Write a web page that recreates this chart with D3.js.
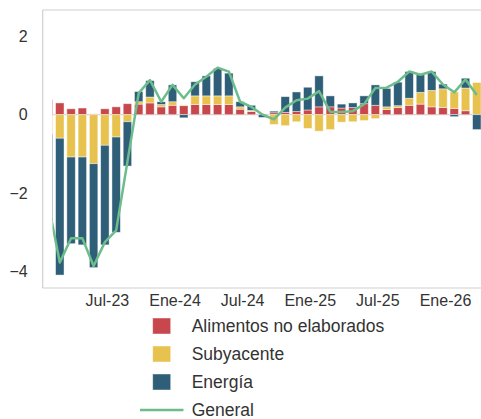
<!DOCTYPE html>
<html>
<head>
<meta charset="utf-8">
<script src="https://cdn.jsdelivr.net/npm/d3@7"></script>
<style>
  html, body { margin: 0; padding: 0; background: #fff; }
  svg { display: block; font-family: "Liberation Sans", Arial, sans-serif; }
</style>
</head>
<body>
<svg id="chart" width="481" height="419"></svg>
<script>
// Monthly contributions (p.p.) from Feb-23 to Apr-26
const months = [
  "2023-02","2023-03","2023-04","2023-05","2023-06","2023-07","2023-08","2023-09","2023-10","2023-11","2023-12",
  "2024-01","2024-02","2024-03","2024-04","2024-05","2024-06","2024-07","2024-08","2024-09","2024-10","2024-11","2024-12",
  "2025-01","2025-02","2025-03","2025-04","2025-05","2025-06","2025-07","2025-08","2025-09","2025-10","2025-11","2025-12",
  "2026-01","2026-02","2026-03","2026-04"
];
const alimentos = [0.39,0.30,0.15,0.17,0.02,0.15,0.20,0.28,0.27,0.30,0.20,
  0.24,0.23,0.26,0.26,0.26,0.26,0.14,0.08,0.02,0.05,0.06,0.08,
  0.12,0.20,0.20,0.17,0.18,0.28,0.24,0.13,0.18,0.24,0.27,0.20,
  0.18,0.16,0.10,0.00];
const subyacente = [-0.50,-0.60,-1.08,-1.08,-1.25,-0.78,-0.57,-0.18,0.06,0.15,0.06,
  0.09,0.02,0.22,0.22,0.22,0.22,0.06,0.03,0.00,-0.25,-0.28,-0.18,
  -0.35,-0.42,-0.38,-0.19,-0.18,-0.15,-0.10,0.07,0.05,0.18,0.30,0.42,
  0.48,0.42,0.58,0.82];
const energia = [-2.20,-3.49,-2.21,-2.24,-2.65,-2.54,-2.43,-1.13,0.26,0.42,0.07,
  0.43,-0.08,0.36,0.51,0.70,0.58,0.13,0.13,-0.07,0.04,0.40,0.50,
  0.58,0.79,0.28,0.10,0.12,0.20,0.52,0.47,0.60,0.68,0.45,0.48,
  0.12,-0.05,0.25,-0.38];
const general = [-2.30,-3.77,-3.15,-3.15,-3.86,-3.25,-2.95,-1.20,0.55,0.88,0.33,
  0.76,0.42,0.77,0.97,1.20,1.10,0.33,0.20,0.00,-0.12,0.18,0.37,
  0.41,0.60,0.07,0.07,0.09,0.27,0.68,0.69,0.84,1.10,1.02,1.10,
  0.77,0.57,0.90,0.50];

const tickMonths = ["2023-07","2024-01","2024-07","2025-01","2025-07","2026-01"];
const tickLabels = ["Jul-23","Ene-24","Jul-24","Ene-25","Jul-25","Ene-26"];
const yTicks = [-4, -2, 0, 2];

const seriesKeys = ["alimentos","subyacente","energia"];
const seriesNames = ["Alimentos no elaborados","Subyacente","Energía"];
const colors = { alimentos: "#c8474d", subyacente: "#e8c24f", energia: "#2f5e78", general: "#6dbd8c" };

const rows = months.map((m, i) => ({
  month: m, alimentos: alimentos[i], subyacente: subyacente[i], energia: energia[i], general: general[i]
}));

const svg = d3.select("#chart");
const plot = { left: 52.5, right: 490, top: 10, bottom: 288 };
const spineX = 42.7;

const x = d3.scaleBand()
  .domain(months)
  .range([42.9, 42.9 + 11.27 * months.length])
  .paddingInner(0.25)
  .paddingOuter(0.125);

const y = d3.scaleLinear().domain([-4.42, 2.67]).range([plot.bottom, plot.top]);

svg.append("defs").append("clipPath").attr("id", "plotClip")
  .append("rect")
  .attr("x", plot.left).attr("y", plot.top)
  .attr("width", plot.right - plot.left).attr("height", plot.bottom - plot.top);

// frame lines
const frame = svg.append("g").attr("stroke", "#cfcfcf").attr("stroke-width", 1.2).attr("fill", "none");
frame.append("line").attr("x1", spineX).attr("x2", spineX).attr("y1", plot.top).attr("y2", plot.bottom);
frame.append("line").attr("x1", spineX).attr("x2", 481).attr("y1", plot.top).attr("y2", plot.top);
frame.append("line").attr("x1", spineX).attr("x2", 481).attr("y1", plot.bottom).attr("y2", plot.bottom);

const g = svg.append("g").attr("clip-path", "url(#plotClip)");

// zero line
g.append("line")
  .attr("x1", plot.left).attr("x2", plot.right)
  .attr("y1", y(0)).attr("y2", y(0))
  .attr("stroke", "#c8c8c8").attr("stroke-width", 1);

const stacked = d3.stack()
  .keys(seriesKeys)
  .offset(d3.stackOffsetDiverging)(rows);

g.selectAll("g.series")
  .data(stacked)
  .join("g")
  .attr("class", "series")
  .attr("fill", d => colors[d.key])
  .selectAll("rect")
  .data(d => d)
  .join("rect")
  .attr("x", d => x(d.data.month))
  .attr("width", x.bandwidth())
  .attr("y", d => y(Math.max(d[0], d[1])))
  .attr("height", d => Math.abs(y(d[0]) - y(d[1])))
  .attr("stroke", "rgba(255,255,255,0.55)")
  .attr("stroke-width", 0.8);

const line = d3.line()
  .x(d => x(d.month) + x.bandwidth() / 2)
  .y(d => y(d.general));

g.append("path")
  .datum(rows)
  .attr("fill", "none")
  .attr("stroke", colors.general)
  .attr("stroke-width", 2.5)
  .attr("stroke-linejoin", "round")
  .attr("d", line);

// y axis labels
const yAxis = svg.append("g")
  .attr("transform", `translate(${spineX},0)`)
  .call(d3.axisLeft(y).tickValues(yTicks).tickSize(0).tickPadding(15));
yAxis.select(".domain").remove();
yAxis.selectAll("text")
  .attr("font-size", 16).attr("fill", "#333")
  .attr("font-family", "'Liberation Sans', Arial, sans-serif");

// x axis labels
const tickLookup = new Map(tickMonths.map((m, i) => [m, tickLabels[i]]));
const xAxis = svg.append("g")
  .attr("transform", `translate(2.5,${plot.bottom})`)
  .call(d3.axisBottom(x).tickValues(tickMonths).tickFormat(m => tickLookup.get(m)).tickSize(0).tickPadding(7));
xAxis.select(".domain").remove();
xAxis.selectAll("text")
  .attr("font-size", 16).attr("fill", "#333")
  .attr("font-family", "'Liberation Sans', Arial, sans-serif");

// legend
const legend = svg.append("g").attr("font-size", 17.5).attr("fill", "#333");
seriesKeys.forEach((k, i) => {
  const cy = 326 + i * 28;
  legend.append("rect")
    .attr("x", 152.7).attr("y", cy - 8).attr("width", 18).attr("height", 16)
    .attr("fill", colors[k])
    .attr("stroke", "rgba(255,255,255,0.55)").attr("stroke-width", 0.8);
  legend.append("text")
    .attr("x", 191.7).attr("y", cy).attr("dy", "0.35em")
    .text(seriesNames[i]);
});
const lgY = 326 + 3 * 28;
legend.append("line")
  .attr("x1", 140).attr("x2", 183.5).attr("y1", lgY).attr("y2", lgY)
  .attr("stroke", colors.general).attr("stroke-width", 2.5);
legend.append("text")
  .attr("x", 191.7).attr("y", lgY).attr("dy", "0.35em")
  .text("General");
</script>
</body>
</html>
